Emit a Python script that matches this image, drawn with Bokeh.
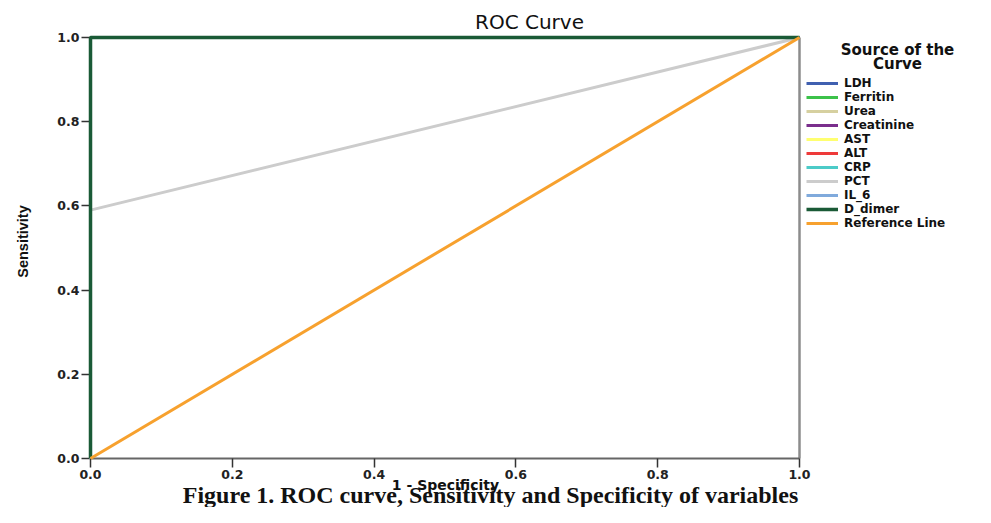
import math
from bokeh.plotting import figure
from bokeh.models import Legend, LegendItem, Label, Range1d, FixedTicker, CustomJSTickFormatter
from bokeh.embed import file_html
from bokeh.resources import INLINE

# ---- data ----
variables = ["LDH", "Ferritin", "Urea", "Creatinine", "AST", "ALT", "CRP", "PCT", "IL_6", "D_dimer"]
colors = ["#4060B0", "#3CC24A", "#D6D0A0", "#7A2E8C", "#FFFF70", "#EE3A3A", "#4CCBC8", "#CCCCCC", "#80AADC", "#1A5A36"]
fpr = {
    "LDH": [0.0, 0.0, 1.0],
    "Ferritin": [0.0, 0.0, 1.0],
    "Urea": [0.0, 0.0, 1.0],
    "Creatinine": [0.0, 0.0, 1.0],
    "AST": [0.0, 0.0, 1.0],
    "ALT": [0.0, 0.0, 1.0],
    "CRP": [0.0, 0.0, 1.0],
    "PCT": [0.0, 0.0, 1.0],
    "IL_6": [0.0, 0.0, 1.0],
    "D_dimer": [0.0, 0.0, 1.0],
}
tpr = {
    "LDH": [0.0, 1.0, 1.0],
    "Ferritin": [0.0, 1.0, 1.0],
    "Urea": [0.0, 1.0, 1.0],
    "Creatinine": [0.0, 1.0, 1.0],
    "AST": [0.0, 1.0, 1.0],
    "ALT": [0.0, 1.0, 1.0],
    "CRP": [0.0, 1.0, 1.0],
    "PCT": [0.0, 0.59, 1.0],
    "IL_6": [0.0, 1.0, 1.0],
    "D_dimer": [0.0, 1.0, 1.0],
}
ref_x = [0.0, 1.0]
ref_y = [0.0, 1.0]
ref_color = "#F7A12E"
ticks = [0.0, 0.2, 0.4, 0.6, 0.8, 1.0]

W, H = 975, 507
FL, FT, FR, FB = 90, 37, 799, 458   # pixel positions of the unit square
sx = FR - FL
sy = FB - FT

p = figure(width=W, height=H, output_backend="svg", toolbar_location=None,
           x_range=Range1d(-FL / sx, (W - FL) / sx), y_range=Range1d(-(H - FB) / sy, FB / sy),
           min_border_left=0, min_border_right=0, min_border_top=0, min_border_bottom=0)
p.grid.visible = False
p.outline_line_color = None
p.background_fill_color = "white"
p.border_fill_color = "white"

# plot-area border at x = 1 (right edge)
p.segment(x0=[ticks[-1]], y0=[ticks[0]], x1=[ticks[-1]], y1=[ticks[-1]], line_color="#8C8C8C", line_width=2.5)

renderers = []
for v, c in zip(variables, colors):
    r = p.line(fpr[v], tpr[v], line_color=c, line_width=3.5 if v == "D_dimer" else 3)
    renderers.append(r)
rr = p.line(ref_x, ref_y, line_color=ref_color, line_width=3)
for r in renderers + [rr]:
    r.level = "overlay"

for ax in (p.xaxis[0], p.yaxis[0]):
    ax.fixed_location = 0
    ax.bounds = (0, 1)
    ax.ticker = FixedTicker(ticks=ticks)
    ax.formatter = CustomJSTickFormatter(code="return tick.toFixed(1);")
    ax.major_label_text_font = "DejaVu Sans"
    ax.major_label_text_font_style = "bold"
    ax.major_label_text_font_size = "12.5px"
    ax.major_label_text_color = "#222222"
    ax.major_tick_out = 9
    ax.major_tick_in = 0
    ax.minor_tick_out = 0
    ax.minor_tick_in = 0
    ax.axis_line_color = "#666666"
    ax.axis_line_width = 2
    ax.major_tick_line_color = "#333333"
    ax.major_tick_line_width = 1.5
    ax.major_label_standoff = 2

def lab(x, y, text, size, font="DejaVu Sans", style="bold", angle=0.0):
    p.add_layout(Label(x=x, y=y, text=text, text_align="center", text_baseline="middle",
                       text_font=font, text_font_style=style, text_font_size=size,
                       text_color="#111111", angle=angle))

def px(xp):
    return (xp - FL) / sx

def py(yp):
    return (FB - yp) / sy

lab(px(529), py(21), "ROC Curve", "20px", style="normal")
lab(px(22), py(241), "Sensitivity", "14.5px", font="Liberation Sans", angle=math.pi / 2)
lab(px(445), py(484), "1 - Specificity", "14px")
lab(px(897), py(49), "Source of the", "15px")
lab(px(897), py(63), "Curve", "15px")
lab(px(490), py(494), "Figure 1. ROC curve, Sensitivity and Specificity of variables", "24px",
    font="Liberation Serif")

items = [LegendItem(label=v, renderers=[r]) for v, r in zip(variables, renderers)]
items.append(LegendItem(label="Reference Line", renderers=[rr]))
legend = Legend(items=items, location=(806, H - 230), orientation="vertical",
                glyph_width=32, glyph_height=14, label_height=14, spacing=0, padding=0, margin=0,
                label_standoff=6, border_line_color=None, background_fill_alpha=0,
                label_text_font="DejaVu Sans", label_text_font_style="bold", label_text_font_size="12px",
                label_text_color="#111111")
p.add_layout(legend, "center")

open("out.html", "w").write(file_html(p, INLINE))
